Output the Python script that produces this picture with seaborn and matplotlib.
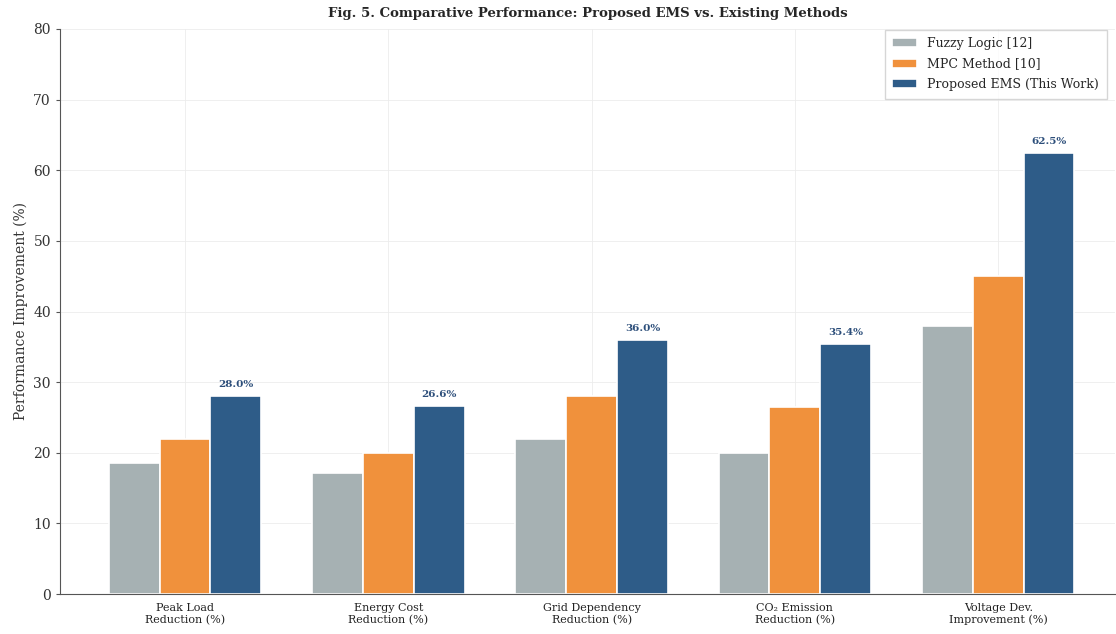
import pandas as pd
import seaborn as sns
import matplotlib.pyplot as plt

categories = ["Peak Load\nReduction (%)", "Energy Cost\nReduction (%)",
              "Grid Dependency\nReduction (%)", "CO\u2082 Emission\nReduction (%)",
              "Voltage Dev.\nImprovement (%)"]
methods = ["Fuzzy Logic [12]", "MPC Method [10]", "Proposed EMS (This Work)"]
fuzzy = [18.5, 17.2, 22.0, 20.0, 38.0]
mpc = [22.0, 20.0, 28.0, 26.5, 45.0]
proposed = [28.0, 26.6, 36.0, 35.4, 62.5]
colors = ["#a6b1b3", "#f0913c", "#2e5c88"]

rows = []
for m, vals in zip(methods, [fuzzy, mpc, proposed]):
    for c, v in zip(categories, vals):
        rows.append({"Metric": c, "Method": m, "Value": v})
df = pd.DataFrame(rows)

sns.set_style("white")
plt.rcParams["font.family"] = ["DejaVu Serif"]

fig = plt.figure(figsize=(11.16, 6.34), dpi=100)
ax = fig.add_axes([60 / 1116, 40 / 634, 1055 / 1116, 565 / 634])
sns.barplot(data=df, x="Metric", y="Value", hue="Method", palette=colors,
            saturation=1, width=0.75, edgecolor="white", linewidth=1.2, ax=ax)

# value labels on the proposed bars
for i, v in enumerate(proposed):
    ax.text(i + 0.25, v + 1.0, "{:.1f}%".format(v), ha="center", va="bottom",
            fontsize=7.5, fontweight="bold", color="#2c4e7a")

ax.set_xlim(-0.615, 4.575)
ax.set_ylim(0, 80)
ax.set_xlabel("")
ax.set_ylabel("Performance Improvement (%)", fontsize=10, color="#333333")
ax.set_title("Fig. 5. Comparative Performance: Proposed EMS vs. Existing Methods",
             fontsize=9.5, fontweight="bold", pad=9)
ax.tick_params(axis="x", labelsize=8, length=3, colors="#555555", labelcolor="#222222")
ax.tick_params(axis="y", labelsize=10, length=3, left=True, colors="#555555",
               labelcolor="#333333")
ax.grid(True, color="#ececec", linewidth=0.6)
ax.set_axisbelow(True)
sns.despine(ax=ax)
for s in ["left", "bottom"]:
    ax.spines[s].set_color("#555555")
ax.legend(title=None, loc="upper right", fontsize=9, frameon=True,
          fancybox=False, edgecolor="#cccccc", labelspacing=0.6,
          borderpad=0.6, bbox_to_anchor=(0.998, 1.01))

plt.savefig("out.png")
plt.close()
